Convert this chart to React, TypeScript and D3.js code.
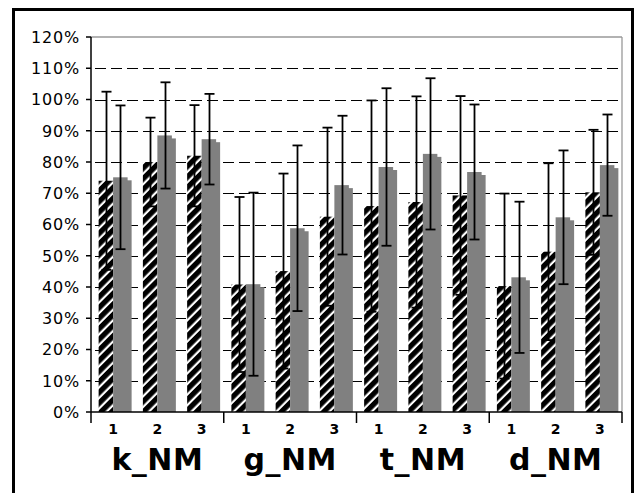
import React from "react";
import * as d3 from "d3";

const groups = ["k_NM", "g_NM", "t_NM", "d_NM"];
const subLabels = ["1", "2", "3"];
const seriesNames = ["hatched", "grey"];

// values in %, order: k1,k2,k3,g1,g2,g3,t1,t2,t3,d1,d2,d3
const hatchedValues = [74, 80, 82, 40.8, 45.1, 62.5, 65.9, 67.2, 69.3, 40.3, 51.3, 70.3];
const hatchedErrors = [28.5, 14.2, 16.2, 28, 31.2, 28.5, 33.8, 33.8, 31.8, 29.6, 28.3, 20];
const greyValues = [75.1, 88.5, 87.3, 40.9, 58.8, 72.6, 78.4, 82.6, 76.8, 43.1, 62.3, 79];
const greyErrors = [23, 17, 14.5, 29.3, 26.5, 22.2, 25.2, 24.2, 21.6, 24.2, 21.4, 16.2];
const yTicks = [0, 10, 20, 30, 40, 50, 60, 70, 80, 90, 100, 110, 120];

const W = 635;
const H = 493;
const L = 91, R = 622, T = 37, B = 412;

export default function App() {
  const cats = groups.flatMap((g) => subLabels.map((s) => `${g}|${s}`));
  const x = d3.scaleBand<string>().domain(cats).range([L, R]).paddingInner(0.345).paddingOuter(0.1725);
  const xs = d3.scaleBand<string>().domain(seriesNames).range([0, x.bandwidth()]);
  const y = d3.scaleLinear().domain([0, 120]).range([B, T]);
  const gx = d3.scaleBand<string>().domain(groups).range([L, R]);
  const font = "'DejaVu Sans', Verdana, sans-serif";
  const bw = xs.bandwidth();
  const capW = 10;

  const series = [
    { name: "hatched", vals: hatchedValues, errs: hatchedErrors, fill: "url(#hatch)" },
    { name: "grey", vals: greyValues, errs: greyErrors, fill: "#808080" },
  ];

  return (
    <svg width={W} height={H} style={{ position: "absolute", left: 0, top: 0, background: "#fff" }}>
      <defs>
        <pattern id="hatch" patternUnits="userSpaceOnUse" width={7.5} height={7.5} patternTransform="rotate(45)">
          <rect x={0} y={0} width={7.5} height={7.5} fill="#fff" />
          <rect x={0} y={0} width={5.3} height={7.5} fill="#000" />
        </pattern>
      </defs>
      <rect x={0} y={0} width={W} height={H} fill="#fff" />
      {/* outer frame */}
      <rect x={13.5} y={9.5} width={619} height={500} fill="none" stroke="#000" strokeWidth={3} />
      {/* plot border (grey) */}
      <line x1={L} x2={R} y1={y(120)} y2={y(120)} stroke="#999" strokeWidth={1.3} />
      <line x1={R} x2={R} y1={T} y2={B} stroke="#999" strokeWidth={1.3} />
      {/* gridlines */}
      {yTicks.filter((t) => t > 0 && t < 120).map((t) => (
        <line key={t} x1={L} x2={R} y1={Math.round(y(t)) + 0.5} y2={Math.round(y(t)) + 0.5}
          stroke="#000" strokeWidth={1.2} strokeDasharray="11,5" strokeDashoffset={-4} />
      ))}
      {/* bars */}
      {cats.map((c, i) => {
        const x0 = x(c)!;
        const gxp = x0 + xs("grey")!;
        return (
          <rect key={"sh" + c} x={gxp + 4} y={y(greyValues[i]) + 3} width={bw} height={B - y(greyValues[i]) - 3} fill="#808080" />
        );
      })}
      {series.map((s) =>
        cats.map((c, i) => {
          const bx = x(c)! + xs(s.name)!;
          return (
            <rect key={s.name + c} x={bx} y={y(s.vals[i])} width={bw} height={B - y(s.vals[i])} fill={s.fill} />
          );
        })
      )}
      {/* error bars */}
      {series.map((s) =>
        cats.map((c, i) => {
          const cx = Math.round(x(c)! + xs(s.name)! + bw / 2) + 0.5;
          const hi = y(s.vals[i] + s.errs[i]);
          const lo = y(s.vals[i] - s.errs[i]);
          return (
            <g key={"e" + s.name + c} stroke="#000" strokeWidth={1.8}>
              <line x1={cx} x2={cx} y1={hi} y2={lo} />
              <line x1={cx - capW / 2} x2={cx + capW / 2} y1={hi} y2={hi} />
              <line x1={cx - capW / 2} x2={cx + capW / 2} y1={lo} y2={lo} />
            </g>
          );
        })
      )}
      {/* axes */}
      <line x1={L} x2={L} y1={T} y2={B + 11} stroke="#000" strokeWidth={1.5} />
      <line x1={L} x2={R} y1={B} y2={B} stroke="#000" strokeWidth={1.5} />
      {groups.map((g) => (
        <line key={"gt" + g} x1={gx(g)! + gx.bandwidth()} x2={gx(g)! + gx.bandwidth()} y1={B} y2={B + 11} stroke="#000" strokeWidth={1.5} />
      ))}
      {yTicks.map((t) => (
        <g key={"yt" + t}>
          <line x1={L - 5} x2={L} y1={y(t)} y2={y(t)} stroke="#000" strokeWidth={1.5} />
          <text x={80} y={y(t)} dy="0.36em" textAnchor="end" fontFamily={font} fontSize={16} letterSpacing={0.8} fill="#000">
            {t}%
          </text>
        </g>
      ))}
      {cats.map((c) => (
        <text key={"cl" + c} x={x(c)! + x.bandwidth() / 2} y={434} textAnchor="middle" fontFamily={font} fontWeight="bold" fontSize={14} fill="#000">
          {c.split("|")[1]}
        </text>
      ))}
      {groups.map((g) => (
        <text key={"gl" + g} x={gx(g)! + gx.bandwidth() / 2} y={470} textAnchor="middle" fontFamily={font} fontWeight="bold" fontSize={30} letterSpacing={0.5} fill="#000">
          {g}
        </text>
      ))}
    </svg>
  );
}
